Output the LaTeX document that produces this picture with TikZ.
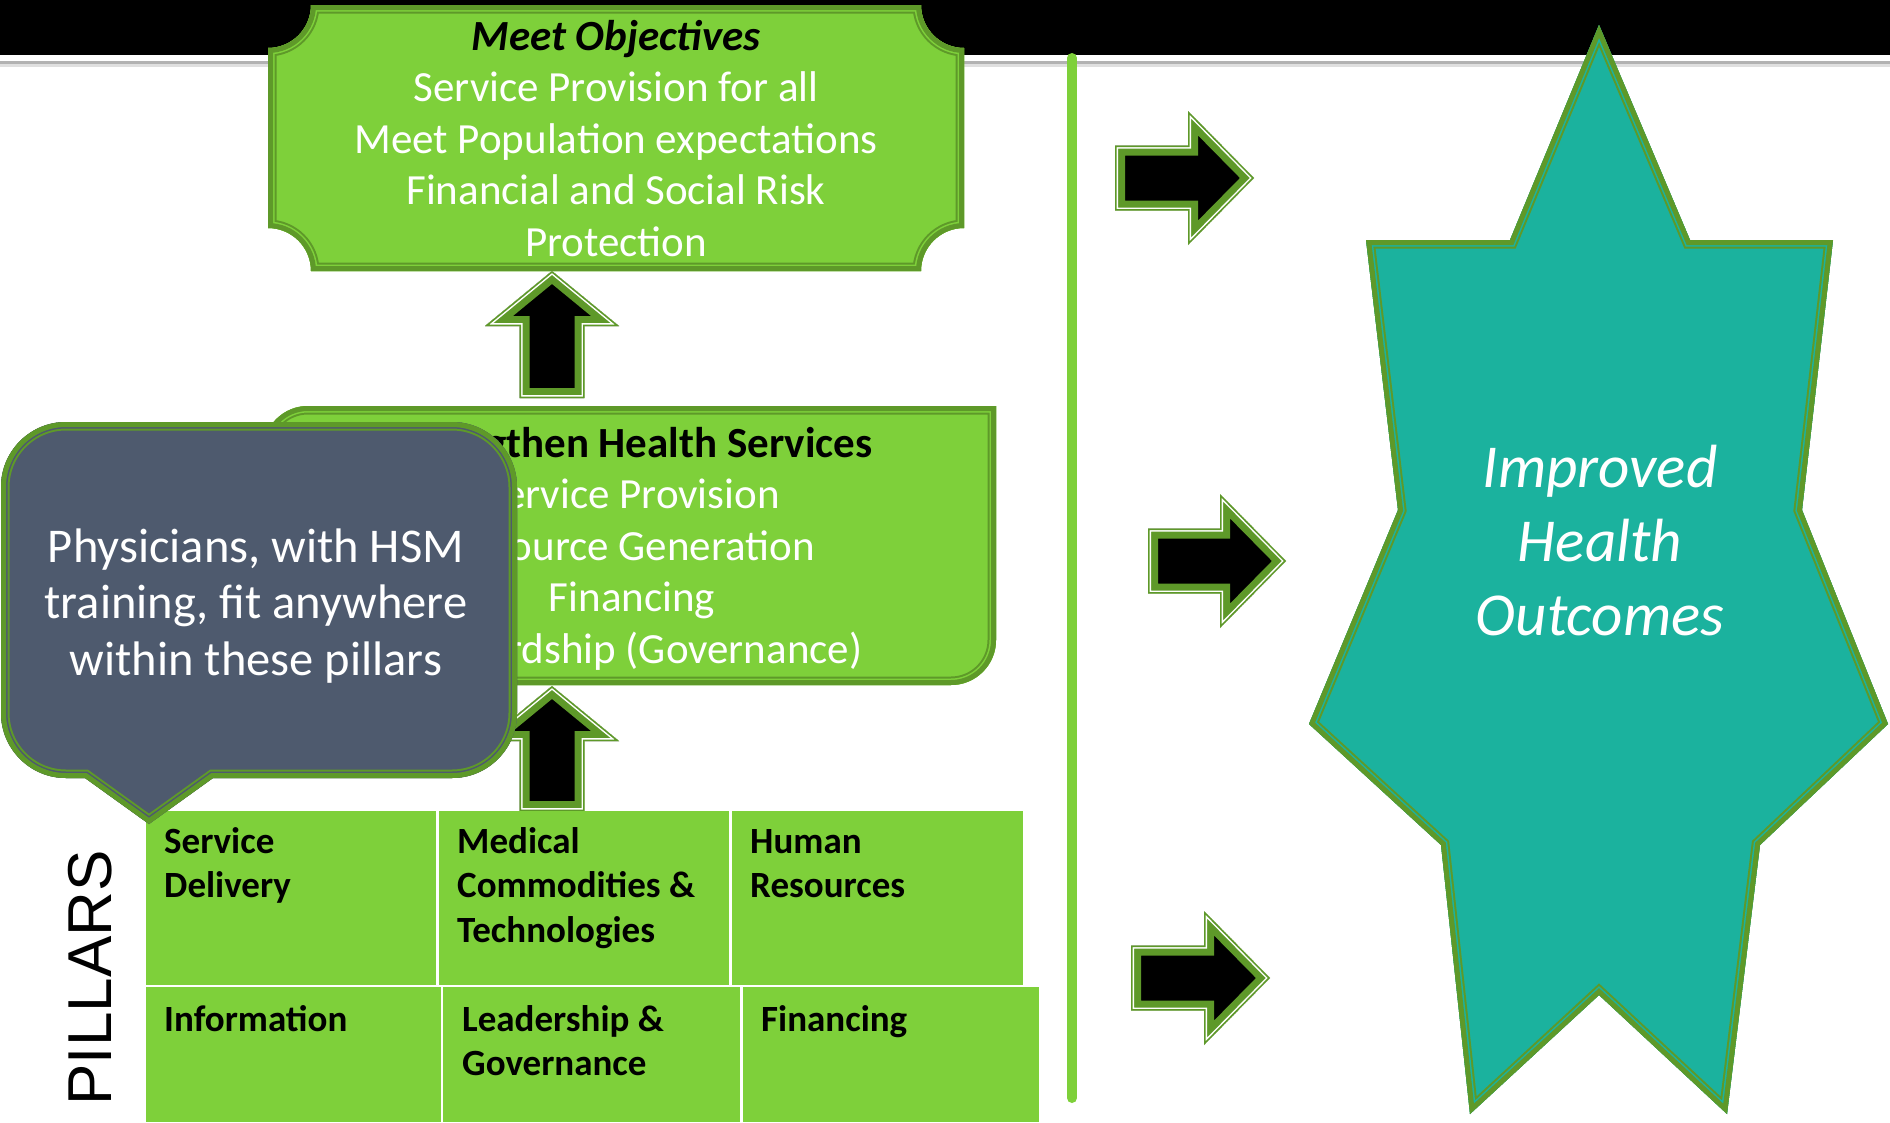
\documentclass[tikz,border=0pt]{standalone}
\usepackage{fontspec}
\setmainfont{Carlito}
\newfontfamily\arialfont{Liberation Sans}
\definecolor{lgreen}{RGB}{126,208,58}
\definecolor{dgreen}{RGB}{94,153,41}
\definecolor{slate}{RGB}{78,90,110}
\definecolor{tealfill}{RGB}{27,178,158}
\newcommand\ornate[2]{%
  \fill[#2] #1;
  \begin{scope}
    \clip #1;
    \draw[dgreen, line width=17pt] #1;
    \draw[#2, line width=13pt] #1;
    \draw[dgreen, line width=10pt] #1;
  \end{scope}}
\newcommand\blockarrow[1]{%
  \begin{scope}
    \clip #1;
    \fill[black] #1;
    \draw[dgreen, line width=20pt] #1;
    \draw[white, line width=6pt] #1;
    \draw[dgreen, line width=3pt] #1;
  \end{scope}}
\tikzset{
  boxtext/.style={inner sep=0pt, align=center, text=white, font=\fontsize{43}{51.5}\selectfont},
  celltext/.style={inner sep=0pt, anchor=north west, align=left, text=black, font=\fontsize{37}{44.5}\selectfont\bfseries},
}
\begin{document}
\begin{tikzpicture}[x=1pt, y=-1pt, line join=miter, miter limit=20]
\useasboundingbox (0,0) rectangle (1890,1122);
\fill[white] (0,0) rectangle (1890,1122);
% top bar
\fill[black] (0,0) rectangle (1890,55);
\fill[gray!60] (0,61) rectangle (1890,64);
\fill[gray!25] (0,64) rectangle (1890,67);
% vertical divider
\draw[lgreen, line width=10pt, line cap=round] (1072,58) -- (1072,1098);
% Meet Objectives box
\ornate{(311,5) -- (921,5) arc[start angle=180, end angle=90, radius=43] -- (964,228) arc[start angle=270, end angle=180, radius=43] -- (311,271) arc[start angle=0, end angle=-90, radius=43] -- (268,48) arc[start angle=90, end angle=0, radius=43] -- cycle}{lgreen}
\node[boxtext] (obj) at (616,142.7) {\strut\textcolor{black}{\textbf{\textit{Meet Objectives}}}\\\strut Service Provision for all\\\strut Meet Population expectations\\\strut Financial and Social Risk\\\strut Protection};
% up arrow 1
\blockarrow{(519.5,398) -- (519.5,326) -- (485,326) -- (552,271) -- (619,326) -- (584.5,326) -- (584.5,398) -- cycle}
% Strengthen box
\ornate{(263,685) -- (263,451) arc[start angle=180, end angle=270, radius=45] -- (996,406) -- (996,640) arc[start angle=0, end angle=90, radius=45] -- cycle}{lgreen}
\node[boxtext] (shs) at (632,549.7) {\strut\textcolor{black}{\textbf{Strengthen Health Services}}\\\strut Service Provision\\\strut Resource Generation\\\strut Financing\\\strut Stewardship (Governance)};
% up arrow 2
\blockarrow{(519.5,811) -- (519.5,741) -- (485,741) -- (552,686) -- (619,741) -- (584.5,741) -- (584.5,811) -- cycle}
% pillars
\fill[lgreen] (146,811) rectangle (436,985);
\fill[lgreen] (439,811) rectangle (729,985);
\fill[lgreen] (732,811) rectangle (1023,985);
\fill[lgreen] (146,987) rectangle (441,1122);
\fill[lgreen] (443,987) rectangle (740,1122);
\fill[lgreen] (743,987) rectangle (1039,1122);
\node[celltext] (p1) at (164,822) {\strut Service\\\strut Delivery};
\node[celltext] (p2) at (457,822) {\strut Medical\\\strut Commodities \&\\\strut Technologies};
\node[celltext] (p3) at (750,822) {\strut Human\\\strut Resources};
\node[celltext] (p4) at (164,1000) {\strut Information};
\node[celltext] (p5) at (462,1000) {\strut Leadership \&\\\strut Governance};
\node[celltext] (p6) at (761,1000) {\strut Financing};
\node[rotate=90, inner sep=0pt, font=\arialfont\fontsize{62}{62}\selectfont] (pillars) at (90,978) {PILLARS};
% callout
\ornate{(66,422) -- (452,422) arc[start angle=270, end angle=360, radius=65] -- (517,713) arc[start angle=0, end angle=90, radius=65] -- (213,778) -- (149,824) -- (85,778) -- (66,778) arc[start angle=90, end angle=180, radius=65] -- (1,487) arc[start angle=180, end angle=270, radius=65] -- cycle}{slate}
\node[inner sep=0pt, align=center, text=white, font=\fontsize{48.5}{56.5}\selectfont] (phys) at (256,607.2) {\strut Physicians, with HSM\\\strut training, fit anywhere\\\strut within these pillars};
% right arrows
\blockarrow{(1115,145.5) -- (1188,145.5) -- (1188,111) -- (1254,178) -- (1188,245) -- (1188,210.5) -- (1115,210.5) -- cycle}
\blockarrow{(1148,528.5) -- (1220,528.5) -- (1220,494) -- (1286,561) -- (1220,628) -- (1220,593.5) -- (1148,593.5) -- cycle}
\blockarrow{(1131,945.5) -- (1204,945.5) -- (1204,911) -- (1270,978) -- (1204,1045) -- (1204,1010.5) -- (1131,1010.5) -- cycle}
% star
\ornate{(1599,25) -- (1690,240) -- (1833,240) -- (1802,510) -- (1888,724) -- (1760,845) -- (1727,1114) -- (1599,995) -- (1470,1114) -- (1441,845) -- (1309,724) -- (1398,510) -- (1366,240) -- (1510,240) -- cycle}{tealfill}
\node[inner sep=0pt, align=center, text=white, font=\fontsize{61}{74}\selectfont\itshape] (out) at (1600,546.2) {\strut Improved\\\strut Health\\\strut Outcomes};
\end{tikzpicture}
\end{document}
